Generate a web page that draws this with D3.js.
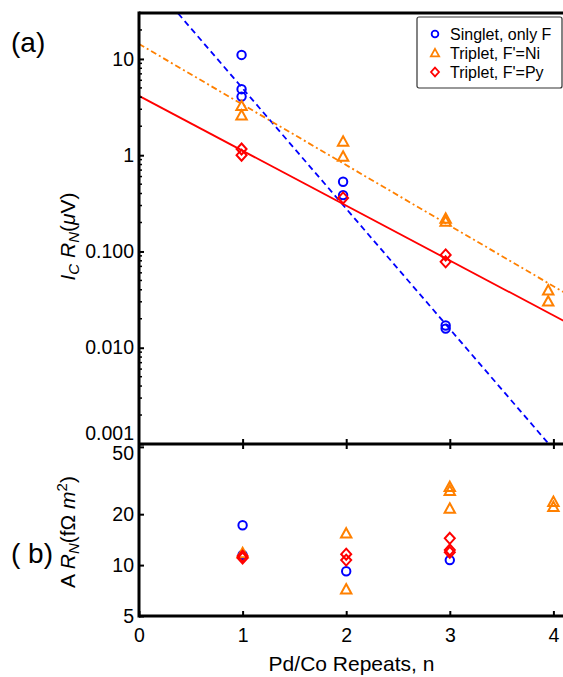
<!DOCTYPE html>
<html>
<head>
<meta charset="utf-8">
<script src="https://cdn.jsdelivr.net/npm/d3@7"></script>
<style>
  html, body { margin: 0; padding: 0; background: #fff; }
  svg text { font-family: "Liberation Sans", Arial, sans-serif; fill: #000; }
</style>
</head>
<body>
<div id="chart"></div>
<script>
// Data: [n, value]
const singletIcRn = [[0.99, 11.0], [0.99, 4.85], [0.99, 4.06], [1.97, 0.53], [1.97, 0.385], [2.96, 0.0170], [2.96, 0.0158]];
const niIcRn = [[0.99, 3.25], [0.99, 2.6], [1.97, 1.39], [1.97, 0.97], [2.96, 0.22], [2.96, 0.205], [3.95, 0.0395], [3.95, 0.0303]];
const pyIcRn = [[0.99, 1.16], [0.99, 1.0], [1.97, 0.36], [2.96, 0.092], [2.96, 0.078]];

const singletARn = [[1, 17.2], [1, 11.5], [2, 9.2], [3, 10.7]];
const niARn = [[1, 11.8], [2, 15.4], [2, 7.2], [3, 29], [3, 27.5], [3, 21.6], [4, 23.7], [4, 22.1]];
const pyARn = [[1, 11.0], [1, 11.3], [2, 11.6], [2, 10.7], [3, 14.4], [3, 12.3], [3, 11.9]];

// exponential fits: value = a * 10^(-k n)
const fitSinglet = [88, 1.25];
const fitNi = [14.3, 0.629];
const fitPy = [4.13, 0.570];

const xTicks = [0, 1, 2, 3, 4];
const upperTickVals = [0.001, 0.01, 0.1, 1, 10];
const upperTickLabels = ["0.001", "0.010", "0.100", "1", "10"];
const lowerTickVals = [5, 10, 20, 50];
const lowerTickLabels = ["5", "10", "20", "50"];
const legendLabels = ["Singlet, only F", "Triplet, F'=Ni", "Triplet, F'=Py"];

const W = 563, H = 677;
const left = 139, right = 564;
const upTop = 13, upBottom = 444, lowBottom = 616;

const BLUE = "#0000ff", ORANGE = "#ff8000", RED = "#ff0000";

const svg = d3.select("#chart").append("svg")
  .attr("width", W).attr("height", H);

const x = d3.scaleLinear().domain([0, 4.1]).range([left, left + 4.1 * 103.6]);
const yUp = d3.scaleLog().domain([0.001, 30]).range([upBottom, upTop]);
const yLow = d3.scaleLog().domain([5, 52]).range([lowBottom, upBottom]);

svg.append("defs").append("clipPath").attr("id", "clipUp")
  .append("rect").attr("x", left).attr("y", upTop)
  .attr("width", right - left).attr("height", upBottom - upTop);

// fit lines
const fitLine = d3.line().x(d => x(d[0])).y(d => yUp(d[1]));
function fitPoints(f) {
  return [0, 4.1].map(n => [n, f[0] * Math.pow(10, -f[1] * n)]);
}
const fits = svg.append("g").attr("clip-path", "url(#clipUp)").attr("fill", "none");
fits.append("path").attr("d", fitLine(fitPoints(fitSinglet)))
  .attr("stroke", BLUE).attr("stroke-width", 1.8).attr("stroke-dasharray", "6,4");
fits.append("path").attr("d", fitLine(fitPoints(fitNi)))
  .attr("stroke", ORANGE).attr("stroke-width", 1.8).attr("stroke-dasharray", "6,3,2,3");
fits.append("path").attr("d", fitLine(fitPoints(fitPy)))
  .attr("stroke", RED).attr("stroke-width", 1.8);

// marker shapes
const circlePath = "M4.2,0A4.2,4.2,0,1,1,-4.2,0A4.2,4.2,0,1,1,4.2,0Z";
const trianglePath = "M0,-5.2L5.2,4.2L-5.2,4.2Z";
const diamondPath = "M0,-5.5L5,0L0,5.5L-5,0Z";

function drawMarkers(g, data, yScale, shape, color) {
  g.append("g").selectAll("path").data(data).join("path")
    .attr("d", shape)
    .attr("transform", d => `translate(${x(d[0])},${yScale(d[1])})`)
    .attr("fill", "none").attr("stroke", color).attr("stroke-width", 2);
}

const marks = svg.append("g");
drawMarkers(marks, singletIcRn, yUp, circlePath, BLUE);
drawMarkers(marks, niIcRn, yUp, trianglePath, ORANGE);
drawMarkers(marks, pyIcRn, yUp, diamondPath, RED);
drawMarkers(marks, singletARn, yLow, circlePath, BLUE);
drawMarkers(marks, niARn, yLow, trianglePath, ORANGE);
drawMarkers(marks, pyARn, yLow, diamondPath, RED);

// axes
const upAxis = svg.append("g").attr("transform", `translate(${left},0)`)
  .call(d3.axisLeft(yUp).tickValues(upperTickVals)
    .tickFormat((d, i) => upperTickLabels[i]).tickSizeInner(-5).tickSizeOuter(0).tickPadding(5));
// minor ticks
upAxis.append("g").selectAll("line")
  .data(yUp.ticks().filter(v => upperTickVals.indexOf(v) < 0))
  .join("line")
  .attr("x1", 0).attr("x2", 3)
  .attr("y1", d => yUp(d)).attr("y2", d => yUp(d))
  .attr("stroke", "#000").attr("stroke-width", 1.5);

const lowAxis = svg.append("g").attr("transform", `translate(${left},0)`)
  .call(d3.axisLeft(yLow).tickValues(lowerTickVals)
    .tickFormat((d, i) => lowerTickLabels[i]).tickSizeInner(-5).tickSizeOuter(0).tickPadding(5));

// nudge the two crowded labels at the panel joint
upAxis.selectAll(".tick").filter(d => d === 0.001).select("text").attr("y", -11);
lowAxis.selectAll(".tick").filter(d => d === 50).select("text").attr("y", 6);

svg.append("g").attr("transform", `translate(0,${lowBottom})`)
  .call(d3.axisBottom(x).tickValues(xTicks).tickFormat(d3.format("d"))
    .tickSizeInner(-5).tickSizeOuter(0).tickPadding(12));
svg.append("g").attr("transform", `translate(0,${upBottom})`)
  .call(d3.axisBottom(x).tickValues(xTicks.slice(1)).tickFormat("").tickSizeInner(-5).tickSizeOuter(0));
svg.append("g").attr("transform", `translate(0,${upBottom})`)
  .call(d3.axisTop(x).tickValues(xTicks.slice(1)).tickFormat("").tickSizeInner(-5).tickSizeOuter(0));

svg.selectAll(".tick text").attr("font-size", 19.5);
svg.selectAll(".tick line").attr("stroke-width", 2);
svg.selectAll(".domain").remove();

// frame lines
const frame = svg.append("g").attr("stroke", "#000").attr("stroke-width", 3);
frame.append("line").attr("x1", left).attr("x2", left).attr("y1", upTop - 1.5).attr("y2", lowBottom + 1.5);
[upTop, upBottom, lowBottom].forEach(yy => {
  frame.append("line").attr("x1", left).attr("x2", right).attr("y1", yy).attr("y2", yy);
});

// panel letters
svg.append("text").attr("x", 11).attr("y", 52).attr("font-size", 28).text("(a)");
svg.append("text").attr("x", 11).attr("y", 563).attr("font-size", 28).attr("xml:space", "preserve").text("( b)");

// axis titles
const yt1 = svg.append("text").attr("transform", `translate(75,${(upTop + upBottom) / 2 + 8}) rotate(-90)`)
  .attr("text-anchor", "middle").attr("font-size", 21);
yt1.append("tspan").attr("font-style", "italic").text("I");
yt1.append("tspan").attr("font-style", "italic").attr("font-size", 15).attr("dy", 4).text("C");
yt1.append("tspan").attr("font-style", "italic").attr("dy", -4).text(" R");
yt1.append("tspan").attr("font-style", "italic").attr("font-size", 15).attr("dy", 4).text("N");
yt1.append("tspan").attr("dy", -4).text("(");
yt1.append("tspan").attr("font-style", "italic").text("μ");
yt1.append("tspan").text("V)");

const yt2 = svg.append("text").attr("transform", `translate(75,${(upBottom + lowBottom) / 2 + 2}) rotate(-90)`)
  .attr("text-anchor", "middle").attr("font-size", 21);
yt2.append("tspan").text("A ");
yt2.append("tspan").attr("font-style", "italic").text("R");
yt2.append("tspan").attr("font-style", "italic").attr("font-size", 15).attr("dy", 4).text("N");
yt2.append("tspan").attr("dy", -4).text("(fΩ ");
yt2.append("tspan").attr("font-style", "italic").text("m");
yt2.append("tspan").attr("font-size", 15).attr("dy", -8).text("2");
yt2.append("tspan").attr("dy", 8).text(")");

svg.append("text").attr("x", (left + right) / 2).attr("y", 671)
  .attr("text-anchor", "middle").attr("font-size", 21).text("Pd/Co Repeats, n");

// legend
const lg = svg.append("g").attr("transform", "translate(417,17)");
lg.append("rect").attr("width", 145).attr("height", 71).attr("rx", 2)
  .attr("fill", "#fff").attr("stroke", "#333").attr("stroke-width", 1.2);
const shapes = [circlePath, trianglePath, diamondPath];
const colors = [BLUE, ORANGE, RED];
legendLabels.forEach((lab, i) => {
  const row = lg.append("g").attr("transform", `translate(0,${17 + i * 19})`);
  row.append("path").attr("d", shapes[i]).attr("transform", "translate(18,0) scale(0.8)")
    .attr("fill", "none").attr("stroke", colors[i]).attr("stroke-width", 2.2);
  row.append("text").attr("x", 33).attr("dy", "0.36em").attr("font-size", 16).text(lab);
});
</script>
</body>
</html>
